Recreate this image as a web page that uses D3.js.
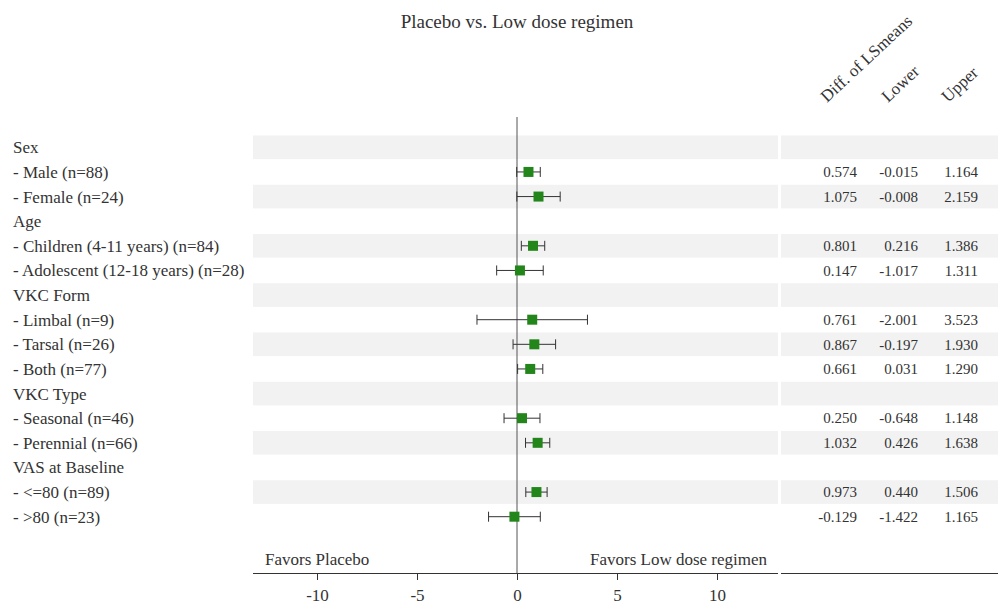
<!DOCTYPE html>
<html>
<head>
<meta charset="utf-8">
<script src="https://cdn.jsdelivr.net/npm/d3@7"></script>
<style>
  body { margin: 0; background: #fff; }
  svg { display: block; }
  text { font-family: "Liberation Serif", "DejaVu Serif", serif; fill: #333; }
</style>
</head>
<body>
<div id="forest"></div>
<script>
// rows of the forest plot (null = group header, no estimate)
var rowLabels = ["Sex", "- Male (n=88)", "- Female (n=24)", "Age",
  "- Children (4-11 years) (n=84)", "- Adolescent (12-18 years) (n=28)",
  "VKC Form", "- Limbal (n=9)", "- Tarsal (n=26)", "- Both (n=77)",
  "VKC Type", "- Seasonal (n=46)", "- Perennial (n=66)",
  "VAS at Baseline", "- <=80 (n=89)", "- >80 (n=23)"]
var diffs  = [null, 0.574, 1.075, null, 0.801, 0.147, null, 0.761, 0.867, 0.661, null, 0.250, 1.032, null, 0.973, -0.129]
var lowers = [null, -0.015, -0.008, null, 0.216, -1.017, null, -2.001, -0.197, 0.031, null, -0.648, 0.426, null, 0.440, -1.422]
var uppers = [null, 1.164, 2.159, null, 1.386, 1.311, null, 3.523, 1.930, 1.290, null, 1.148, 1.638, null, 1.506, 1.165]
var colHeads = ["Diff. of LSmeans", "Lower", "Upper"]
var xTicks = [-10, -5, 0, 5, 10]

var width = 998, height = 606

var svg = d3.select("#forest").append("svg")
  .attr("width", width)
  .attr("height", height)

var x = d3.scaleLinear().domain([-13.2, 13.05]).range([253, 778])
var y = d3.scaleBand().domain(d3.range(rowLabels.length)).range([135, 529])
var colX = [857, 918, 978]   // right edge of each table column

var rows = rowLabels.map(function(l, i){
  return { label: l, est: diffs[i], lo: lowers[i], hi: uppers[i], i: i }
})

// shaded stripes, plot part and table part
svg.selectAll('.stripe')
  .data(rows.filter(function(d){ return d.i % 2 == 0 }))
  .enter().append('rect')
  .attr('class', 'stripe')
  .attr('x', x.range()[0])
  .attr('y', function(d){ return y(d.i) + 0.5 })
  .attr('width', x.range()[1] - x.range()[0])
  .attr('height', y.bandwidth() - 1)
  .style('fill', '#f2f2f2')
svg.selectAll('.stripe2')
  .data(rows.filter(function(d){ return d.i % 2 == 0 }))
  .enter().append('rect')
  .attr('class', 'stripe2')
  .attr('x', 781)
  .attr('y', function(d){ return y(d.i) + 0.5 })
  .attr('width', width - 781)
  .attr('height', y.bandwidth() - 1)
  .style('fill', '#f2f2f2')

// title
svg.append('text')
  .attr('x', x(0))
  .attr('y', 28)
  .attr('text-anchor', 'middle')
  .style('font-size', '19px')
  .text('Placebo vs. Low dose regimen')

// reference line at zero
svg.append('line')
  .attr('x1', x(0)).attr('x2', x(0))
  .attr('y1', 117).attr('y2', 573)
  .style('stroke', '#555')
  .style('stroke-width', 1)

// row labels
svg.selectAll('.rowlabel')
  .data(rows)
  .enter().append('text')
  .attr('class', 'rowlabel')
  .attr('x', 13)
  .attr('y', function(d){ return y(d.i) + y.bandwidth() / 2 })
  .attr('dy', '0.35em')
  .style('font-size', '17px')
  .text(function(d){ return d.label })

var pts = rows.filter(function(d){ return d.est != null })

// confidence intervals
var ci = svg.selectAll('.ci')
  .data(pts)
  .enter().append('g')
  .attr('class', 'ci')
  .attr('transform', function(d){ return 'translate(0,' + (y(d.i) + y.bandwidth() / 2) + ')' })

ci.append('line')
  .attr('x1', function(d){ return x(d.lo) })
  .attr('x2', function(d){ return x(d.hi) })
  .style('stroke', '#333')
ci.append('line')
  .attr('x1', function(d){ return x(d.lo) })
  .attr('x2', function(d){ return x(d.lo) })
  .attr('y1', -5).attr('y2', 5)
  .style('stroke', '#333')
ci.append('line')
  .attr('x1', function(d){ return x(d.hi) })
  .attr('x2', function(d){ return x(d.hi) })
  .attr('y1', -5).attr('y2', 5)
  .style('stroke', '#333')
ci.append('rect')
  .attr('x', function(d){ return x(d.est) - 5 })
  .attr('y', -5)
  .attr('width', 10)
  .attr('height', 10)
  .style('fill', '#23861a')

// table columns
var cols = [
  function(d){ return d.est },
  function(d){ return d.lo },
  function(d){ return d.hi }
]
cols.forEach(function(get, c){
  svg.selectAll('.val' + c)
    .data(pts)
    .enter().append('text')
    .attr('class', 'val' + c)
    .attr('x', colX[c])
    .attr('y', function(d){ return y(d.i) + y.bandwidth() / 2 })
    .attr('dy', '0.35em')
    .attr('text-anchor', 'end')
    .style('font-size', '15px')
    .text(function(d){ return get(d).toFixed(3) })
})

// rotated column headers
svg.selectAll('.colhead')
  .data(colHeads)
  .enter().append('text')
  .attr('class', 'colhead')
  .attr('transform', function(d, i){
    return 'translate(' + [827, 888, 948][i] + ',103) rotate(-43)'
  })
  .style('font-size', '17px')
  .text(function(d){ return d })

// x axis
var axis = svg.append('g')
  .attr('transform', 'translate(0,573)')
  .call(d3.axisBottom(x).tickValues(xTicks).tickSize(7).tickPadding(9)
    .tickFormat(function(d){ return d }))
axis.select('.domain').style('stroke', '#333').attr('d', 'M253,0.5H778')
axis.selectAll('.tick line').style('stroke', '#333')
axis.selectAll('.tick text')
  .style('font-family', '"Liberation Serif", serif')
  .style('font-size', '17px')
  .style('fill', '#333')

// axis line continues under the table
svg.append('line')
  .attr('x1', 781).attr('x2', width)
  .attr('y1', 573.5).attr('y2', 573.5)
  .style('stroke', '#333')

svg.append('text')
  .attr('x', 265).attr('y', 559)
  .attr('dy', '0.35em')
  .style('font-size', '17px')
  .text('Favors Placebo')
svg.append('text')
  .attr('x', 590).attr('y', 559)
  .attr('dy', '0.35em')
  .style('font-size', '17px')
  .text('Favors Low dose regimen')
</script>
</body>
</html>
